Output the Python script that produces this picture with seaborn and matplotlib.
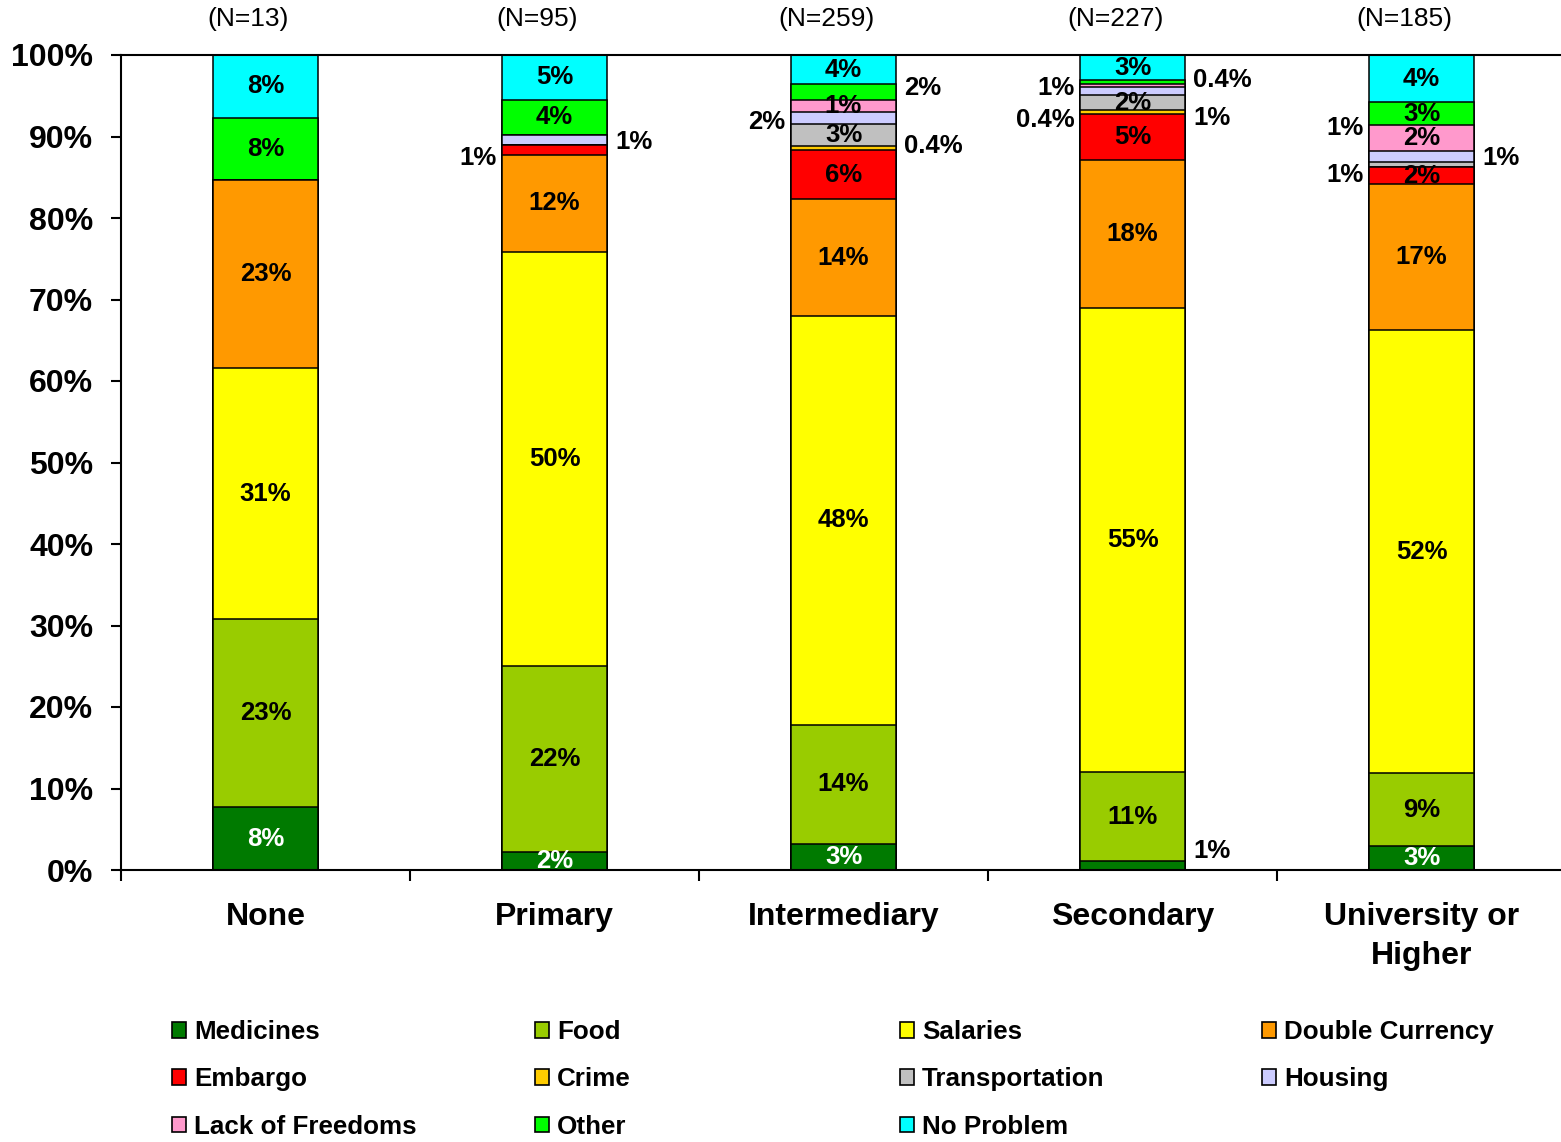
import numpy as np
import seaborn as sns
import matplotlib.pyplot as plt
from matplotlib.patches import Patch

sns.set_style('white')
plt.rcParams['font.family'] = ['Liberation Sans', 'DejaVu Sans']
plt.rcParams['text.color'] = 'black'
plt.rcParams['xtick.color'] = 'black'
plt.rcParams['ytick.color'] = 'black'

# categories and sample sizes
categories = ['None', 'Primary', 'Intermediary', 'Secondary', 'University or\nHigher']
n_labels = ['(N=13)', '(N=95)', '(N=259)', '(N=227)', '(N=185)']

# share of answers (%) per education level, bottom to top
series = ['Medicines', 'Food', 'Salaries', 'Double Currency', 'Embargo', 'Crime',
          'Transportation', 'Housing', 'Lack of Freedoms', 'Other', 'No Problem']
medicines = [7.7, 2.2, 3.2, 1.1, 2.9]
food = [23.1, 22.8, 14.6, 10.9, 8.9]
salaries = [30.8, 50.8, 50.2, 57.0, 54.2]
double_currency = [23.1, 11.9, 14.3, 18.1, 17.8]
embargo = [0, 1.2, 6.0, 5.7, 2.1]
crime = [0, 0, 0.5, 0.4, 0]
transportation = [0, 0, 2.7, 1.9, 0.6]
housing = [0, 1.2, 1.5, 1.0, 1.4]
lack_of_freedoms = [0, 0, 1.5, 0.4, 3.2]
other = [7.7, 4.3, 1.9, 0.4, 2.7]
no_problem = [7.7, 5.5, 3.6, 3.1, 5.8]

values = [medicines, food, salaries, double_currency, embargo, crime,
          transportation, housing, lack_of_freedoms, other, no_problem]

colors = ['#007A00', '#99CC00', '#FFFF00', '#FF9900', '#FF0000', '#FFCC00',
          '#C0C0C0', '#CCCCFF', '#FF99CC', '#00FF00', '#00FFFF']

# labels printed inside the segments
inside_labels = [
    ['8%', '2%', '3%', '', '3%'],
    ['23%', '22%', '14%', '11%', '9%'],
    ['31%', '50%', '48%', '55%', '52%'],
    ['23%', '12%', '14%', '18%', '17%'],
    ['', '', '6%', '5%', '2%'],
    ['', '', '', '', ''],
    ['', '', '3%', '2%', ''],
    ['', '', '', '', ''],
    ['', '', '1%', '', '2%'],
    ['8%', '4%', '', '', '3%'],
    ['8%', '5%', '4%', '3%', '4%'],
]

# labels of thin segments, written beside the bar: (bar, text, side, height %)
outside_labels = [
    (1, '1%', 'left', 87.4), (1, '1%', 'right', 89.3),
    (2, '2%', 'left', 91.8), (2, '2%', 'right', 96.0), (2, '0.4%', 'right', 88.8),
    (3, '1%', 'left', 96.0), (3, '0.4%', 'right', 96.9), (3, '0.4%', 'left', 92.0),
    (3, '1%', 'right', 92.3), (3, '1%', 'right', 2.3),
    (4, '1%', 'left', 91.0), (4, '1%', 'left', 85.3), (4, '1%', 'right', 87.4),
]

vals = np.array(values, dtype=float)
vals = vals / vals.sum(axis=0) * 100
cum = np.cumsum(vals, axis=0)

fig = plt.figure(figsize=(15.61, 11.42), dpi=100)
ax = fig.add_axes([121 / 1561, 272 / 1142, 1445 / 1561, 815 / 1142])

# stacked bars: draw cumulative heights from the top series down
for i in range(len(series) - 1, -1, -1):
    sns.barplot(x=categories, y=cum[i], order=categories, color=colors[i],
                saturation=1, width=0.36, edgecolor='black', linewidth=1.1,
                errorbar=None, ax=ax)

for i in range(len(series)):
    for j in range(len(categories)):
        txt = inside_labels[i][j]
        if txt:
            mid = cum[i][j] - vals[i][j] / 2
            ax.text(j, mid, txt, ha='center', va='center', fontsize=18.5,
                    fontweight='bold', color='white' if i == 0 else 'black')

for j, txt, side, y in outside_labels:
    if side == 'left':
        ax.text(j - 0.2, y, txt, ha='right', va='center', fontsize=18.5, fontweight='bold')
    else:
        ax.text(j + 0.21, y, txt, ha='left', va='center', fontsize=18.5, fontweight='bold')

for j, txt in enumerate(n_labels):
    ax.text(j - 0.06, 104.4, txt, ha='center', va='center', fontsize=19, clip_on=False)

ax.set_xlim(-0.5, 4.5)
ax.set_ylim(0, 100)
ax.set_yticks(np.arange(0, 101, 10))
ax.set_yticklabels([f'{v}%' for v in range(0, 101, 10)], fontsize=23, fontweight='bold')
ax.set_xticks(range(len(categories)))
ax.set_xticklabels(categories, fontsize=23, fontweight='bold', linespacing=1.4)
ax.set_xticks(np.arange(-0.5, 4.6, 1), minor=True)
ax.tick_params(axis='x', which='major', length=0, pad=23)
ax.tick_params(axis='x', which='minor', length=8, width=1.5, direction='out', bottom=True)
ax.tick_params(axis='y', length=7, width=1.5, direction='out', left=True, pad=13)
ax.set_xlabel('')
ax.set_ylabel('')
for s in ['left', 'bottom', 'top']:
    ax.spines[s].set_linewidth(1.5)
    ax.spines[s].set_color('black')
ax.spines['right'].set_visible(False)

# legend: four columns, filled row by row
handles = [Patch(facecolor=c, edgecolor='black', linewidth=1.2) for c in colors]
col_x = [172, 535, 900, 1262]
for c in range(4):
    idx = list(range(c, len(series), 4))
    fig.legend([handles[k] for k in idx], [series[k] for k in idx],
               loc='upper left', bbox_to_anchor=(col_x[c] / 1561, 1 - 1020 / 1142),
               frameon=False, borderpad=0, borderaxespad=0,
               prop={'size': 18.7, 'weight': 'bold'},
               handlelength=0.55, handleheight=0.55, handletextpad=0.3,
               labelspacing=0.9)

fig.savefig('out.png', dpi=100)
